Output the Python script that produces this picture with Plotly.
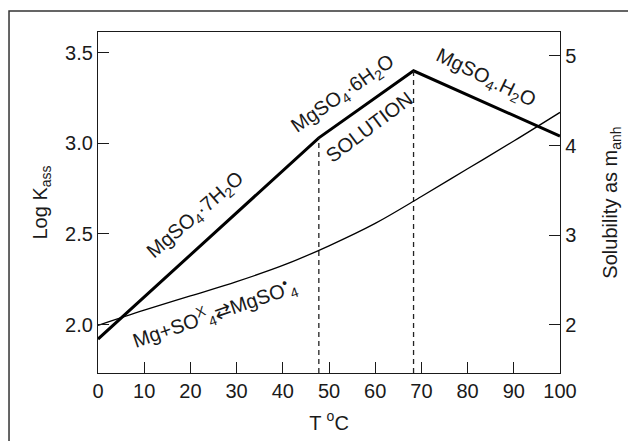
import plotly.graph_objects as go

# ---- data ----
temp_nodes = [0, 47.8, 68.3, 100]          # T (°C) at the ends / phase transitions
logk_nodes = [1.92, 3.03, 3.40, 3.04]      # Log K_ass of the hydrate lines

sol_temp = [0, 10, 20, 30, 40, 50, 60, 70, 80, 90, 100]
sol_vals = [1.99, 2.16, 2.32, 2.48, 2.66, 2.88, 3.13, 3.43, 3.74, 4.05, 4.37]

transition_temps = [47.8, 68.3]
transition_logk = [3.03, 3.40]

x_range = [0, 100]
logk_range = [1.733, 3.614]
sol_range = [1.459, 5.268]

x_ticks = [0, 10, 20, 30, 40, 50, 60, 70, 80, 90, 100]
logk_ticks = [2.0, 2.5, 3.0, 3.5]
logk_ticklabels = ["2.0", "2.5", "3.0", "3.5"]
sol_ticks = [2, 3, 4, 5]

labels = [
    # text, T, logK, angle
    ("MgSO<sub>4</sub>·7H<sub>2</sub>O", 21.2, 2.60, -41),
    ("MgSO<sub>4</sub>·6H<sub>2</sub>O", 53.0, 3.27, -35),
    ("SOLUTION", 58.7, 3.09, -37),
    ("MgSO<sub>4</sub>.H<sub>2</sub>O", 84.0, 3.36, 26),
    ("Mg+SO<sup>X</sup><sub>4</sub>⇄MgSO<sup>•</sup><sub>4</sub>", 25.3, 2.06, -19),
]

INK = "#1a1a1a"
FONT = "Liberation Sans, Arial, sans-serif"

fig = go.Figure()

# hydrate solubility (Log K) line
fig.add_trace(go.Scatter(x=temp_nodes, y=logk_nodes, mode="lines",
                         line=dict(color="black", width=3), yaxis="y",
                         showlegend=False, hoverinfo="skip"))

# dashed transitions
for t, k in zip(transition_temps, transition_logk):
    fig.add_trace(go.Scatter(x=[t, t], y=[logk_range[0], k], mode="lines",
                             line=dict(color="#222", width=1.3, dash="5px,4px"),
                             yaxis="y", showlegend=False, hoverinfo="skip"))

# solubility curve on right axis
fig.add_trace(go.Scatter(x=sol_temp, y=sol_vals, mode="lines", line_shape="spline",
                         line=dict(color="black", width=1.3), yaxis="y2",
                         showlegend=False, hoverinfo="skip"))

for text, t, k, ang in labels:
    fig.add_annotation(x=t, y=k, xref="x", yref="y", text=text, showarrow=False,
                       textangle=ang, font=dict(family=FONT, size=20, color=INK),
                       xanchor="center", yanchor="middle")

# outer frame (partially cropped)
fig.add_shape(type="rect", xref="paper", yref="paper",
              x0=-0.1926, x1=1.3, y0=-0.4, y1=1.0616,
              line=dict(color="#333", width=1.5), fillcolor="rgba(0,0,0,0)", layer="below")

axis_common = dict(showgrid=False, zeroline=False, showline=True, linecolor=INK,
                   linewidth=1.3, ticks="inside", ticklen=11, tickcolor=INK, tickwidth=1.3,
                   tickfont=dict(family=FONT, size=20, color=INK))

fig.update_layout(
    width=628, height=433,
    margin=dict(l=90, r=76, t=24, b=68, autoexpand=False),
    paper_bgcolor="white", plot_bgcolor="white",
    font=dict(family=FONT, size=20, color=INK),
    xaxis=dict(range=x_range, tickvals=x_ticks, mirror=True,
               title=dict(text="T <sup>o</sup>C", standoff=14,
                          font=dict(family=FONT, size=20, color=INK)),
               **axis_common),
    yaxis=dict(range=logk_range, tickvals=logk_ticks, ticktext=logk_ticklabels, mirror=True,
               title=dict(text="Log K<sub>ass</sub>", standoff=12,
                          font=dict(family=FONT, size=20, color=INK)),
               **axis_common),
    yaxis2=dict(range=sol_range, tickvals=sol_ticks, overlaying="y", side="right",
                title=dict(text="Solubility as m<sub>anh</sub>", standoff=27,
                           font=dict(family=FONT, size=20, color=INK)),
                **axis_common),
)

fig.write_html("out.html")
